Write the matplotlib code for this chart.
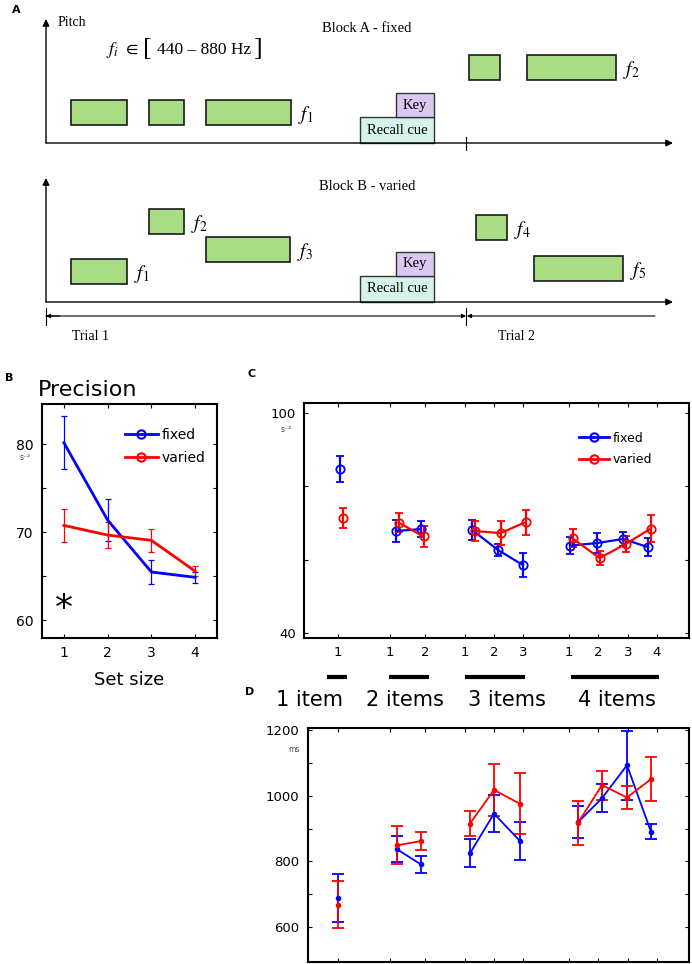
import matplotlib.pyplot as plt
from matplotlib.patches import Rectangle
from matplotlib.lines import Line2D

plt.rcParams['mathtext.fontset'] = 'stix'

# ---- panel A: schematic tone sequences (pixel units of the sketch) ----
toneA_start = [71, 149, 206, 469, 527]
toneA_end = [127, 184, 291, 500, 616]
toneA_top = [100, 100, 100, 55, 55]
toneA_names = ['', '', r'$f_1$', '', r'$f_2$']
toneB_start = [71, 149, 206, 476, 534]
toneB_end = [127, 184, 290, 507, 623]
toneB_top = [259, 209, 237, 215, 256]
toneB_names = [r'$f_1$', r'$f_2$', r'$f_3$', r'$f_4$', r'$f_5$']

# ---- panel B: precision vs set size ----
set_size = [1, 2, 3, 4]
b_fixed = [80.2, 71.4, 65.5, 64.9]
b_fixed_err = [3.0, 2.4, 1.35, 0.6]
b_varied = [70.8, 69.7, 69.1, 65.6]
b_varied_err = [1.9, 1.5, 1.3, 0.6]

# ---- panel C: precision per item position ----
group_labels = ['1 item', '2 items', '3 items', '4 items']
item_labels = ['1', '1', '2', '1', '2', '3', '1', '2', '3', '4']
c_fixed = [[84.7], [67.8, 68.3], [68.1, 62.6, 58.5], [63.8, 64.5, 65.6, 63.4]]
c_fixed_err = [[3.5], [3.0, 2.2], [2.8, 1.7, 3.3], [2.3, 2.8, 2.0, 2.4]]
c_varied = [[71.3], [70.1, 66.3], [67.8, 67.2, 70.2], [65.8, 60.4, 64.2, 68.4]]
c_varied_err = [[2.8], [2.5, 2.8], [2.8, 3.2, 3.4], [2.5, 1.8, 2.2, 3.7]]

# ---- panel D: reaction time (ms) ----
d_fixed = [[689], [837, 791], [825, 945, 862], [919, 992, 1092, 890]]
d_fixed_err = [[73], [40, 25], [42, 56, 58], [48, 42, 105, 23]]
d_varied = [[669], [849, 862], [915, 1017, 975], [917, 1032, 994, 1050]]
d_varied_err = [[72], [58, 27], [38, 80, 93], [68, 44, 36, 68]]

# layout: horizontal positions (figure pixels) of ticks and points in C/D
tick_x = [[338], [390, 425], [465, 494, 523], [569, 598, 628, 657]]
c_pos = [[340], [396, 421], [472, 498, 523], [570, 597, 623, 648]]
d_pos = [[338], [397, 421], [470, 494, 520], [578, 602, 627, 651]]
bar_x = [(327, 347), (389, 429), (465, 525), (571, 659)]
label_x = [310, 405, 507, 617]

BLUE = '#0000ff'
RED = '#ff0000'
GREEN = '#a8dc84'
SERIF = 'Liberation Serif'

W, H = 692, 964
fig = plt.figure(figsize=(W / 100, H / 100), dpi=100)
bg = fig.add_axes([0, 0, 1, 1])
bg.set_xlim(0, W)
bg.set_ylim(H, 0)
bg.axis('off')


def box(x0, y0, x1, y1):
    return [x0 / W, 1 - y1 / H, (x1 - x0) / W, (y1 - y0) / H]


def arrow(ax, tail, head, style='-|>', ms=10, lw=1.0):
    ax.annotate('', xy=head, xytext=tail,
                arrowprops=dict(arrowstyle=style, color='k', lw=lw,
                                mutation_scale=ms, shrinkA=0, shrinkB=0))


# ================= panel A =================
for starts, ends, tops, names, base in [
        (toneA_start, toneA_end, toneA_top, toneA_names, 143),
        (toneB_start, toneB_end, toneB_top, toneB_names, 302)]:
    for s, e, t, n in zip(starts, ends, tops, names):
        bg.add_patch(Rectangle((s, t), e - s, 25, fc=GREEN, ec='#1a1a1a', lw=1.2))
        if n:
            bg.text(e + 7, t + 15, n, fontsize=14, va='center', ha='left')
    # recall cue and key boxes
    bg.add_patch(Rectangle((360, base - 26), 74, 26, fc='#d5f3ea', ec='#333', lw=1))
    bg.add_patch(Rectangle((396, base - 50), 38, 24, fc='#dcc9f3', ec='#333', lw=1))
    bg.text(397, base - 13, 'Recall cue', family=SERIF, fontsize=10.5,
            ha='center', va='center')
    bg.text(415, base - 38, 'Key', family=SERIF, fontsize=10.5,
            ha='center', va='center')
    arrow(bg, (46, base), (46, base - 124))
    arrow(bg, (46, base), (673, base))

bg.plot([466, 466], [137, 150], color='k', lw=0.8)
bg.text(58, 22, 'Pitch', family=SERIF, fontsize=10, va='center')
bg.text(367, 29, 'Block A - fixed', family=SERIF, fontsize=10.5, ha='center', va='center')
bg.text(367, 187, 'Block B - varied', family=SERIF, fontsize=10.5, ha='center', va='center')
bg.text(106, 50, r'$f_i$ $\in$', family=SERIF, fontsize=13, va='center')
bg.text(143, 49, '[', family=SERIF, fontsize=19, va='center')
bg.text(157, 50, '440 – 880 Hz', family=SERIF, fontsize=12.5, va='center')
bg.text(253, 49, ']', family=SERIF, fontsize=19, va='center')

# trial spans
arrow(bg, (60, 316), (46, 316), ms=6, lw=0.8)
arrow(bg, (46, 316), (466, 316), ms=6, lw=0.8)
arrow(bg, (655, 316), (467, 316), ms=6, lw=0.8)
for xv in (46, 466):
    bg.plot([xv, xv], [308, 325], color='k', lw=0.8)
bg.text(72, 337, 'Trial 1', family=SERIF, fontsize=10, va='center')
bg.text(498, 337, 'Trial 2', family=SERIF, fontsize=10, va='center')

# panel letters
for lab, (xv, yv) in zip('ABCD', [(12, 10), (5, 378), (247, 374), (245, 692)]):
    bg.text(xv, yv, lab, fontsize=8, weight='bold', va='center')


def frame(ax):
    for sp in ax.spines.values():
        sp.set_linewidth(1.5)
    ax.tick_params(direction='in', top=True, right=True, length=3, width=0.8,
                   labelsize=10, pad=6)


# ================= panel B =================
axB = fig.add_axes(box(42, 404, 217, 638))
axB.errorbar(set_size, b_fixed, yerr=b_fixed_err, color=BLUE, lw=2,
             elinewidth=0.9, capsize=2, capthick=0.9)
axB.errorbar(set_size, b_varied, yerr=b_varied_err, color=RED, lw=2,
             elinewidth=0.9, capsize=2, capthick=0.9)
axB.set_xlim(0.5, 4.5)
axB.set_ylim(58, 84.6)
axB.set_xticks(set_size)
axB.set_yticks([60, 65, 70, 75, 80])
axB.set_yticklabels(['60', '', '70', '', '80'])
frame(axB)
axB.set_xlabel('Set size', fontsize=13, labelpad=8)
axB.text(1, 61.3, '*', fontsize=26, ha='center', va='center')
handles = [Line2D([], [], color=BLUE, lw=2, marker='o', mfc='none', ms=6, mew=1.5),
           Line2D([], [], color=RED, lw=2, marker='o', mfc='none', ms=6, mew=1.5)]
axB.legend(handles, ['fixed', 'varied'], loc='upper left', bbox_to_anchor=(0.44, 0.92),
           frameon=False, fontsize=10, handlelength=2.4, handletextpad=0.3,
           labelspacing=0.6, borderaxespad=0)
bg.text(38, 390, 'Precision', fontsize=16, va='center')
bg.text(20, 457, 's⁻²', fontsize=5.5, color='#444', va='center')

# ================= panel C =================
axC = fig.add_axes(box(304, 403, 689, 638))
for xs, fv, fe, vv, ve in zip(c_pos, c_fixed, c_fixed_err, c_varied, c_varied_err):
    axC.errorbar(xs, fv, yerr=fe, color=BLUE, lw=1.6, marker='o', mfc='none',
                 ms=6, mew=1.3, elinewidth=1.6, capsize=3, capthick=1.5)
    axC.errorbar([x + 2.5 for x in xs], vv, yerr=ve, color=RED, lw=1.6, marker='o',
                 mfc='none', ms=6, mew=1.3, elinewidth=1.6, capsize=3, capthick=1.5)
axC.set_xlim(304, 689)
axC.set_ylim(38.6, 102.7)
axC.set_xticks([x for g in tick_x for x in g])
axC.set_xticklabels(item_labels)
axC.set_yticks([40, 60, 80, 100])
axC.set_yticklabels(['40', '', '', '100'])
frame(axC)
axC.tick_params(labelsize=9.5)
axC.legend(handles, ['fixed', 'varied'], loc='upper left', bbox_to_anchor=(0.70, 0.9),
           frameon=False, fontsize=9, handlelength=2.4, handletextpad=0.3,
           labelspacing=0.7, borderaxespad=0)
bg.text(318, 428, 'Precision', fontsize=16, va='center')
bg.text(281, 430, 's⁻²', fontsize=5.5, color='#444', va='center')
bg.text(339, 561, '*', fontsize=26, ha='center', va='center')
bg.text(342, 587, 'p=0.013', fontsize=8.5, ha='center', va='center')

# group bars and labels between C and D
for (x0, x1), lx, lab in zip(bar_x, label_x, group_labels):
    bg.plot([x0, x1], [677, 677], color='k', lw=3, solid_capstyle='butt')
    bg.text(lx, 700, lab, fontsize=15, ha='center', va='center')

# ================= panel D =================
axD = fig.add_axes(box(308, 728, 689, 962))
for xs, fv, fe, vv, ve in zip(d_pos, d_fixed, d_fixed_err, d_varied, d_varied_err):
    axD.errorbar(xs, fv, yerr=fe, color=BLUE, lw=1.3, marker='o', ms=3,
                 elinewidth=1.3, capsize=4, capthick=1.3)
    axD.errorbar(xs, vv, yerr=ve, color=RED, lw=1.3, marker='o', ms=3,
                 elinewidth=1.3, capsize=4, capthick=1.3)
axD.set_xlim(308, 689)
axD.set_ylim(495, 1205)
axD.set_xticks([x for g in tick_x for x in g])
axD.set_xticklabels([])
axD.set_yticks([600, 700, 800, 900, 1000, 1100, 1200])
axD.set_yticklabels(['600', '', '800', '', '1000', '', '1200'])
frame(axD)
axD.tick_params(labelsize=9.5)
bg.text(321, 753, 'Reaction time', fontsize=10.5, va='center')
bg.text(288, 749, 'ms', fontsize=5.5, color='#444', va='center')

fig.savefig('out.png', dpi=100)
